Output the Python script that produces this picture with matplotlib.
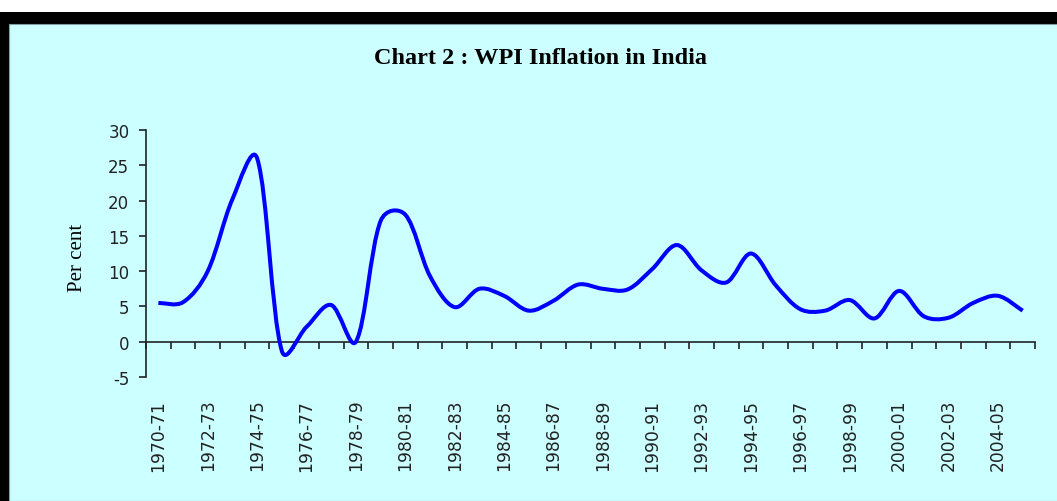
"""WPI inflation in India, 1970-71 to 2005-06 (Chart 2)."""
import matplotlib
matplotlib.use("Agg")
import matplotlib.pyplot as plt
import numpy as np
from matplotlib.patches import PathPatch, Rectangle
from matplotlib.path import Path

years = ["1970-71", "1971-72", "1972-73", "1973-74", "1974-75", "1975-76",
         "1976-77", "1977-78", "1978-79", "1979-80", "1980-81", "1981-82",
         "1982-83", "1983-84", "1984-85", "1985-86", "1986-87", "1987-88",
         "1988-89", "1989-90", "1990-91", "1991-92", "1992-93", "1993-94",
         "1994-95", "1995-96", "1996-97", "1997-98", "1998-99", "1999-00",
         "2000-01", "2001-02", "2002-03", "2003-04", "2004-05", "2005-06"]
inflation = [5.5, 5.6, 10.0, 20.2, 26.0, -1.3, 2.1, 5.2, 0.0, 17.1, 18.0, 9.3,
             4.9, 7.5, 6.5, 4.4, 5.8, 8.1, 7.5, 7.4, 10.3, 13.7, 10.1, 8.4,
             12.5, 8.0, 4.6, 4.4, 5.9, 3.3, 7.2, 3.6, 3.4, 5.5, 6.5, 4.4]
y_ticks = [-5, 0, 5, 10, 15, 20, 25, 30]

W, H = 1057, 502
CYAN = "#ccffff"
INK = "#222222"

plt.rcParams["axes.unicode_minus"] = False


def smooth_path(ax, x, y):
    # excel-style smoothed line: bezier through every point, tangents
    # damped where a short segment meets a long one (screen space)
    pts = ax.transData.transform(np.column_stack([x, y]).astype(float))
    pad = np.vstack([pts[0], pts, pts[-1]])
    seg = np.hypot(*np.diff(pad, axis=0).T)
    verts, codes = [pts[0]], [Path.MOVETO]
    for i in range(len(pts) - 1):
        p0, p1, p2, p3 = pad[i], pad[i + 1], pad[i + 2], pad[i + 3]
        d01, d12, d23 = seg[i], seg[i + 1], seg[i + 2]
        g1 = np.sqrt(2 * d12 / (d01 + d12)) / 6
        g2 = np.sqrt(2 * d12 / (d12 + d23)) / 6
        verts += [p1 + (p2 - p0) * g1, p2 - (p3 - p1) * g2, p2]
        codes += [Path.CURVE4] * 3
    verts = ax.transData.inverted().transform(np.array(verts))
    return Path(verts, codes)


fig = plt.figure(figsize=(W / 100, H / 100), dpi=100, facecolor="white")
# black frame (top + left) and cyan chart area, as in the screenshot
fig.patches.append(Rectangle((0, 0), 1, 1 - 13 / H, transform=fig.transFigure,
                             facecolor="black", edgecolor="none", zorder=-2))
fig.patches.append(Rectangle((9 / W, 0), 1, 1 - 25 / H, transform=fig.transFigure,
                             facecolor=CYAN, edgecolor="#7f9f9f", lw=0.8,
                             zorder=-1))

ax = fig.add_axes([146 / W, (H - 378) / H, (1035 - 146) / W, (378 - 131) / H])
ax.patch.set_visible(False)

x = np.arange(len(years))
ax.set_xlim(-0.5, len(years) - 0.5)
ax.set_ylim(-5, 30)
ax.add_patch(PathPatch(smooth_path(ax, x, inflation), transform=ax.transData,
                       fill=False, edgecolor="#0000ff", lw=2.9,
                       capstyle="butt", joinstyle="round", clip_on=False,
                       zorder=3))

for side in ("top", "right"):
    ax.spines[side].set_visible(False)
ax.spines["left"].set_color(INK)
ax.spines["left"].set_linewidth(1.2)
ax.spines["bottom"].set_position(("data", 0))
ax.spines["bottom"].set_color(INK)
ax.spines["bottom"].set_linewidth(1.2)

ax.set_yticks(y_ticks)
ax.tick_params(axis="y", direction="out", length=5, width=1.2,
               color=INK, pad=7, labelsize=12, labelcolor=INK)

# tick marks between categories, labels on every other category
ax.set_xticks(np.arange(-0.5, len(years), 1.0))
ax.set_xticklabels([])
ax.tick_params(axis="x", which="major", direction="out", length=5, width=1.2,
               color=INK)
ax.set_xticks(x[::2], minor=True)
ax.set_xticklabels(years[::2], minor=True, rotation=90, fontsize=12.3,
                   color=INK, va="top", ha="center")
ax.tick_params(axis="x", which="minor", length=0, pad=41)

fig.text(540 / W, 1 - 58 / H, "Chart 2 : WPI Inflation in India",
         ha="center", va="center", fontsize=17.5, fontweight="bold",
         family="Liberation Serif")
fig.text(78 / W, 1 - 258 / H, "Per cent", rotation=90, ha="center",
         va="center", fontsize=15, family="Liberation Serif")

fig.savefig("out.png", dpi=100)
